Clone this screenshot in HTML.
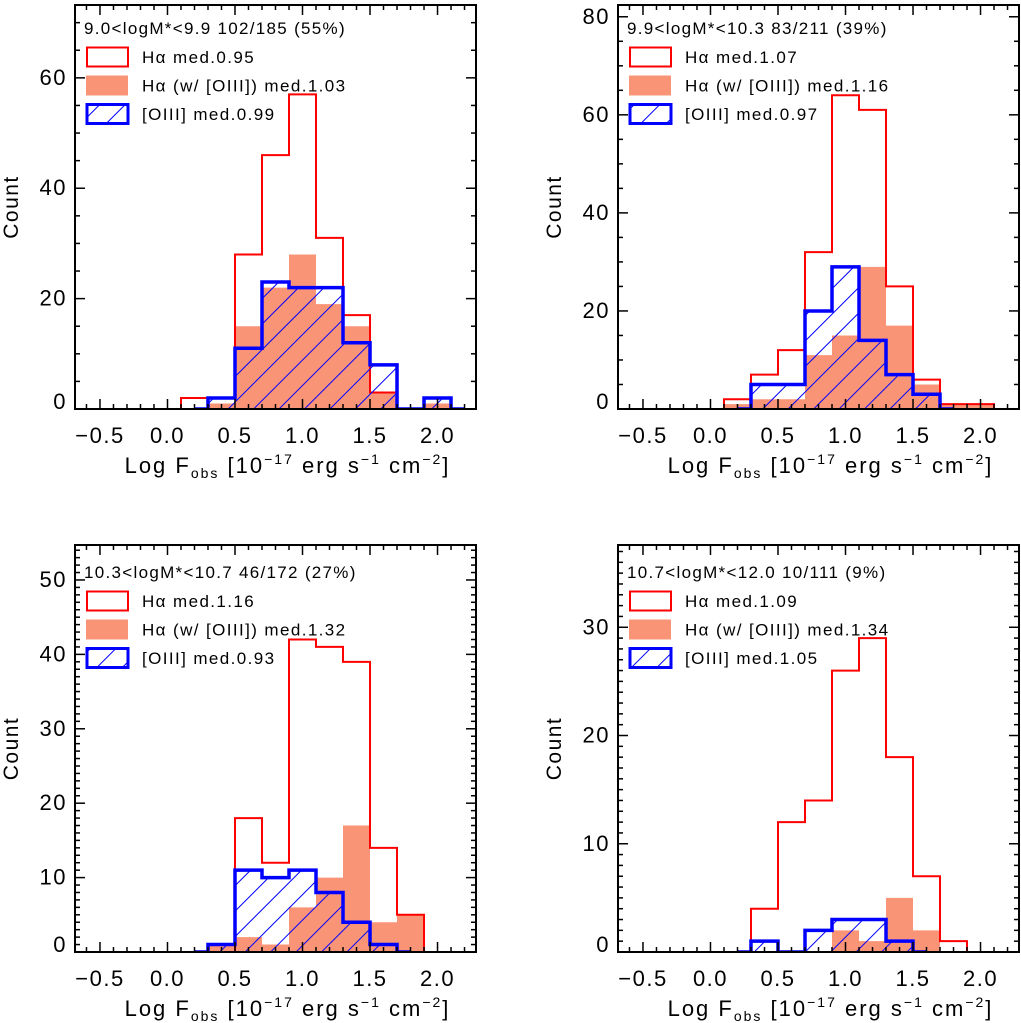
<!DOCTYPE html>
<html><head><meta charset="utf-8"><style>
html,body{margin:0;padding:0;background:#fff;}
svg{display:block;font-family:"Liberation Sans",sans-serif;}
</style></head><body>
<svg id="fig" width="1021" height="1023" viewBox="0 0 1021 1023" xmlns="http://www.w3.org/2000/svg">
<defs>
<pattern id="hatch" patternUnits="userSpaceOnUse" width="18" height="18" patternTransform="rotate(45)">
<line x1="0" y1="0" x2="0" y2="18" stroke="#0000ff" stroke-width="2"/>
</pattern>
</defs>
</svg>
<script>
// bin centers (log flux), width 0.2
const binCenters = [0.2,0.4,0.6,0.8,1.0,1.2,1.4,1.6,1.8,2.0];
const xTicks = [-0.5,0.0,0.5,1.0,1.5,2.0];
const xTickLabels = ["\u22120.5","0.0","0.5","1.0","1.5","2.0"];

const titles = ["9.0<logM*<9.9  102/185 (55%)","9.9<logM*<10.3 83/211 (39%)","10.3<logM*<10.7 46/172 (27%)","10.7<logM*<12.0  10/111 (9%)"];
const medHa = ["0.95","1.07","1.16","1.09"];
const medHaO = ["1.03","1.16","1.32","1.34"];
const medO = ["0.99","0.97","0.93","1.05"];

const haP1 = [2,2,28,46,57,31,17,3,0,2];
const haoP1 = [0,1,15,22,28,19,15,3,0,1];
const oP1 = [0,2,11,23,22,22,12,8,0,2];

const haP2 = [2,7,12,32,64,61,25,6,1,1];
const haoP2 = [1,2,2,11,15,29,17,5,1,1];
const oP2 = [0,5,5,20,29,14,7,3,0,0];

const haP3 = [0,0,18,12,42,41,39,14,5,0];
const haoP3 = [0,1,2,1,6,10,17,4,5,0];
const oP3 = [0,1,11,10,11,8,4,1,0,0];

const haP4 = [0,4,12,14,26,29,18,7,1,0];
const haoP4 = [0,0,0,0,2,1,5,2,0,0];
const oP4 = [0,1,0,2,3,3,1,0,0,0];

const yMax = [73.2,82.4,54.7,37.6];
const yMajor = [20,20,10,10];
const yMinor = [5,5,1,1];

const panels = [
 {L:75,R:476,T:5,B:409,ha:haP1,hao:haoP1,o:oP1},
 {L:618,R:1019,T:5,B:409,ha:haP2,hao:haoP2,o:oP2},
 {L:75,R:476,T:545,B:952,ha:haP3,hao:haoP3,o:oP3},
 {L:618,R:1019,T:545,B:952,ha:haP4,hao:haoP4,o:oP4}
];
const NS="http://www.w3.org/2000/svg";
const svg=document.getElementById('fig');
function mk(tag,attrs,parent){const e=document.createElementNS(NS,tag);for(const k in attrs)e.setAttribute(k,attrs[k]);(parent||svg).appendChild(e);return e;}

panels.forEach((p,i)=>{
  const g=mk('g',{});
  
  
  const xmin=-0.685, xmax=2.285;
  const xs=v=>p.L+(v-xmin)/(xmax-xmin)*(p.R-p.L);
  const ys=v=>p.B-v/yMax[i]*(p.B-p.T);
  const clipId='clip'+i;
  const cp=mk('clipPath',{id:clipId},g);
  mk('rect',{x:p.L,y:p.T,width:p.R-p.L,height:p.B-p.T},cp);
  function stepPath(vals){
    let first=vals.findIndex(v=>v>0), last=vals.length-1-[...vals].reverse().findIndex(v=>v>0);
    let d='M'+xs(binCenters[first]-0.2)+','+ys(0)+' L'+xs(binCenters[first]-0.1)+','+ys(0);
    for(let k=first;k<=last;k++){
      d+=' L'+xs(binCenters[k]-0.1)+','+ys(vals[k])+' L'+xs(binCenters[k]+0.1)+','+ys(vals[k]);
    }
    d+=' L'+xs(binCenters[last]+0.1)+','+ys(0)+' L'+xs(binCenters[last]+0.2)+','+ys(0);
    return d;
  }
  function fillPath(vals){
    let d='';
    vals.forEach((v,k)=>{ if(v>0){ d+='M'+xs(binCenters[k]-0.1)+','+ys(0)+' H'+xs(binCenters[k]+0.1)+' V'+ys(v)+' H'+xs(binCenters[k]-0.1)+' Z ';}});
    return d;
  }
  const s1=mk('path',{d:fillPath(p.hao),fill:'#fa9476','clip-path':'url(#'+clipId+')'},g);
  
  
  const s0=mk('path',{d:stepPath(p.ha),fill:'none',stroke:'#ff0000','stroke-width':2,'clip-path':'url(#'+clipId+')'},g);
  
  
  const s2h=mk('path',{d:fillPath(p.o),fill:'url(#hatch)','clip-path':'url(#'+clipId+')'},g);
  
  
  const s2=mk('path',{d:stepPath(p.o),fill:'none',stroke:'#0000ff','stroke-width':3.5,'clip-path':'url(#'+clipId+')'},g);
  
  
  const fr=mk('rect',{x:p.L,y:p.T,width:p.R-p.L,height:p.B-p.T,fill:'none',stroke:'#000','stroke-width':2},g);
  
  
  for(let t=-6;t<=22;t++){
    const v=t/10, x=xs(v), major=(t%5===0), len=major?10:5;
    mk('line',{x1:x,y1:p.B,x2:x,y2:p.B-len,stroke:'#000','stroke-width':1.5},g);
    mk('line',{x1:x,y1:p.T,x2:x,y2:p.T+len,stroke:'#000','stroke-width':1.5},g);
  }
  xTicks.forEach((v,k)=>{
    const t=mk('text',{x:xs(v),y:p.B+34,'text-anchor':'middle','font-size':22,'letter-spacing':1.5,fill:'#000'},g);
    t.textContent=xTickLabels[k];
    
    
  });
  for(let v=0;v<=yMax[i];v+=yMinor[i]){
    const y=ys(v), major=(Math.round(v)%yMajor[i]===0), len=major?10:5;
    mk('line',{x1:p.L,y1:y,x2:p.L+len,y2:y,stroke:'#000','stroke-width':1.5},g);
    mk('line',{x1:p.R,y1:y,x2:p.R-len,y2:y,stroke:'#000','stroke-width':1.5},g);
    if(major){
      const t=mk('text',{x:p.L-8,y:y+(v===0?0:7),'text-anchor':'end','font-size':22,'letter-spacing':1.5,fill:'#000'},g);
      t.textContent=String(v);
      
      
    }
  }
  const yt=mk('text',{x:0,y:0,'text-anchor':'middle','font-size':21,'letter-spacing':1.5,fill:'#000',transform:'translate('+(p.L-57)+','+((p.T+p.B)/2)+') rotate(-90)'},g);
  yt.textContent='Count';
  
  
  const xt=mk('text',{x:(p.L+p.R)/2+12,y:p.B+64,'text-anchor':'middle','font-size':22,'letter-spacing':2,fill:'#000'},g);
  xt.innerHTML='Log F<tspan font-size="14" dy="5">obs</tspan><tspan dy="-5"> [10</tspan><tspan font-size="14" dy="-9">\u221217</tspan><tspan dy="9"> erg s</tspan><tspan font-size="14" dy="-9">\u22121</tspan><tspan dy="9"> cm</tspan><tspan font-size="14" dy="-9">\u22122</tspan><tspan dy="9">]</tspan>';
  
  
  const off = i<2 ? 0 : 4;
  const lx=p.L+12;
  const ty=p.T+23+off;
  const tt=mk('text',{x:p.L+9,y:ty+6,'font-size':17,'letter-spacing':1.3,fill:'#000'},g);
  tt.textContent=titles[i];
  
  
  const rows=[[medHa[i],'Hα med.'],[medHaO[i],'Hα (w/ [OIII]) med.'],[medO[i],'[OIII] med.']];
  rows.forEach((r,k)=>{
    const cy=ty+29+k*28.5;
    let sw;
    if(k===0) sw=mk('rect',{x:lx,y:cy-9.5,width:41,height:19,fill:'none',stroke:'#ff0000','stroke-width':2},g);
    if(k===1) sw=mk('rect',{x:lx-1,y:cy-10,width:42,height:20,fill:'#fa9476'},g);
    if(k===2){
      mk('rect',{x:lx,y:cy-9.5,width:41,height:19,fill:'url(#hatch)'},g);
      sw=mk('rect',{x:lx,y:cy-9.5,width:41,height:19,fill:'none',stroke:'#0000ff','stroke-width':3},g);
    }
    
    
    const t=mk('text',{x:lx+55,y:cy+6,'font-size':17,'letter-spacing':1.4,fill:'#000'},g);
    t.textContent=(k===0?'Hα  med.':r[1])+r[0];
    
    
  });
});
</script>
</body></html>
